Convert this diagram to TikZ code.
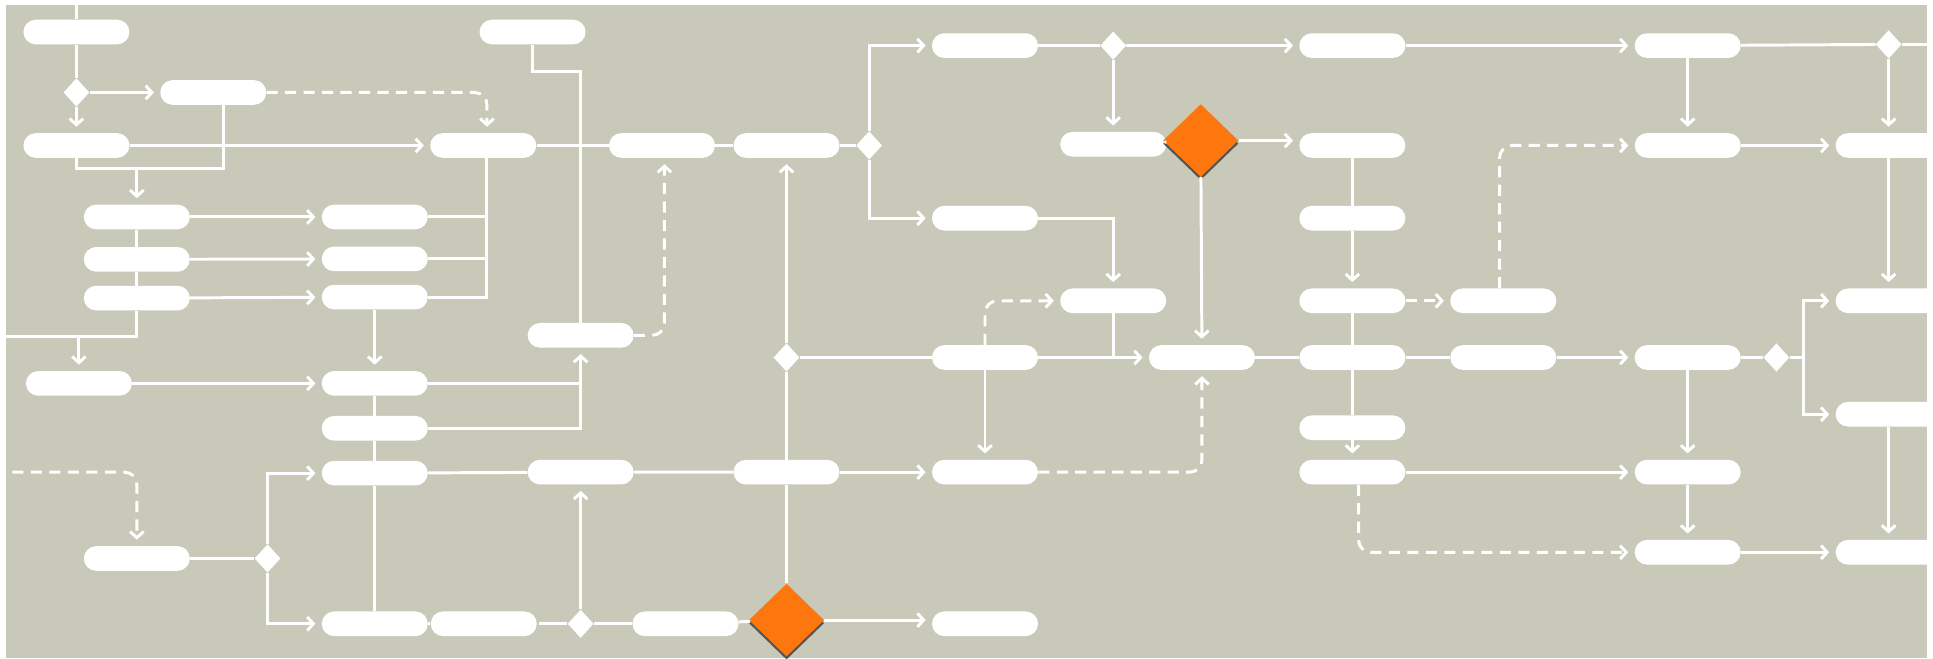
\documentclass[tikz,border=0pt]{standalone}
\usepackage{tikz}
\usetikzlibrary{positioning, arrows.meta, shapes.geometric, shadows}
\definecolor{panel}{RGB}{201,201,186}
\definecolor{hubor}{RGB}{253,119,14}

\begin{document}
\begin{tikzpicture}[
    x=1pt, y=-1pt,
    stage/.style={fill=white, rounded corners=10pt, minimum width=86pt, minimum height=20pt, inner sep=0pt},
    gate/.style={diamond, fill=white, minimum width=21pt, minimum height=23pt, inner sep=0pt},
    hub/.style={diamond, fill=hubor, minimum width=61pt, minimum height=59pt, inner sep=0pt,
        drop shadow={shadow xshift=0pt, shadow yshift=-2.5pt, fill=black!75, opacity=0.85}},
    wire/.style={draw=white, line width=2.4pt},
    flow/.style={wire, -{Straight Barb[length=5pt, width=11pt]}, shorten >=5pt},
    dflow/.style={flow, dash pattern=on 9pt off 6pt, rounded corners=10pt}
]
\useasboundingbox (0,0) rectangle (1568,534);
\fill[white] (0,0) rectangle (1568,534);
\fill[panel] (5,4) rectangle (1563,534);
\clip (5,4) rectangle (1563,534);

% Left entry column
\node[stage] (a1) at (62,26) {};
\node[gate] (dia1) at (62,75) {};
\node[stage] (a2) at (62,118) {};
\node[stage] (c1) at (173,75) {};
\node[stage] (a3) at (64,311) {};

% Parallel branch
\node[stage] (b1) at (111,176) {};
\node[stage, below=14pt of b1] (b2) {};
\node[stage, below=11pt of b2] (b3) {};
\node[stage] (b4) at (111,453) {};
\node[gate] (dia2) at (217,453) {};

\node[stage] (d1) at (304,176) {};
\node[stage] (d2) at (304,210) {};
\node[stage] (d3) at (304,241) {};
\node[stage] (d4) at (304,311) {};
\node[stage, below=16pt of d4] (d5) {};
\node[stage, below=16pt of d5] (d6) {};
\node[stage] (d7) at (304,506) {};
\node[stage, right=2pt of d7] (e2) {};

% Merge column
\node[stage] (f1) at (432,26) {};
\node[stage] (e1) at (392,118) {};
\node[stage] (g1) at (471,272) {};
\node[stage] (g2) at (471,383) {};
\node[gate] (dia3) at (471,506) {};
\node[stage] (h1) at (537,118) {};
\node[stage] (h2) at (556,506) {};
\node[stage] (i1) at (638,118) {};
\node[gate] (dia5) at (638,290) {};
\node[stage] (i2) at (638,383) {};
\node[hub] (hubB) at (638,503) {};
\node[gate] (dia4) at (705,118) {};

% Middle block
\node[stage] (j1) at (799,37) {};
\node[stage] (j2) at (799,177) {};
\node[stage] (j3) at (799,290) {};
\node[stage] (j4) at (799,383) {};
\node[stage] (j5) at (799,506) {};
\node[gate] (dia6) at (903,37) {};
\node[stage] (k1) at (903,117) {};
\node[stage] (k2) at (903,244) {};
\node[hub] (hubA) at (974,114) {};
\node[stage] (l1) at (975,290) {};

% Right block
\node[stage] (m1) at (1097,37) {};
\node[stage] (m2) at (1097,118) {};
\node[stage] (m3) at (1097,177) {};
\node[stage] (m4) at (1097,244) {};
\node[stage] (m5) at (1097,290) {};
\node[stage] (m6) at (1097,347) {};
\node[stage] (m7) at (1097,383) {};
\node[stage, right=36pt of m4] (n1) {};
\node[stage, right=36pt of m5] (n2) {};

\node[stage] (o1) at (1369,37) {};
\node[stage] (o2) at (1369,118) {};
\node[stage] (o3) at (1369,290) {};
\node[stage] (o4) at (1369,383) {};
\node[stage] (o5) at (1369,448) {};
\node[gate] (dia7) at (1441,290) {};
\node[gate] (dia8) at (1532,36) {};
\node[stage] (q1) at (1532,118) {};
\node[stage] (q2) at (1532,244) {};
\node[stage] (q3) at (1532,336) {};
\node[stage] (q4) at (1532,448) {};

% Loose ends
\coordinate (inA) at (62,0);
\coordinate (inL) at (0,273);
\coordinate (inD) at (10,383);
\coordinate (joinA) at (111,137);
\coordinate (eb) at ([xshift=3pt]e1.south);
\coordinate (forkR) at (1463,290);
\coordinate (outR) at (1570,36);

% Left connectors
\draw[wire] (inA) -- (a1);
\draw[wire] (a1) -- (dia1);
\draw[flow] (dia1) -- (a2);
\draw[flow] (dia1) -- (c1);
\draw[dflow] (c1) -| ([xshift=3pt]e1.north);
\draw[wire] (a2.south) |- (joinA) -| ([xshift=8pt]c1.south);
\draw[flow] (joinA) -- (b1);
\draw[flow] (a2) -- (e1);
\draw[wire] (b1) -- (b2) -- (b3);
\draw[wire] (b3) |- (inL);
\draw[flow] (a3.north |- inL) -- (a3);
\draw[flow] (b1) -- (d1);
\draw[flow] (b2) -- (d2);
\draw[flow] (b3) -- (d3);
\draw[wire] (eb) |- (d3);
\draw[wire] (d1) -- (d1 -| eb);
\draw[wire] (d2) -- (d2 -| eb);
\draw[flow] (d3) -- (d4);
\draw[flow] (a3) -- (d4);
\draw[wire] (d4) -- (d5) -- (d6) -- (d7);
\draw[wire] (d4) -- (d4 -| g1);
\draw[flow] (d5) -| (g1);
\draw[dflow] (inD) -| (b4);
\draw[wire] (b4) -- (dia2);
\draw[flow] (dia2) |- (d6);
\draw[flow] (dia2) |- (d7);

% Merge connectors
\draw[wire] (f1.south) -- ++(0,22) -| (g1);
\draw[wire] (e1) -- (h1);
\draw[dflow] (g1) -| ([xshift=2pt]h1.south);
\draw[wire] (h1) -- (i1);
\draw[wire] (i1) -- (dia4);
\draw[wire] (d6) -- (g2) -- (i2);
\draw[wire] (d7) -- (e2);
\draw[wire, shorten <=2pt] (e2) -- (dia3);
\draw[wire] (dia3) -- (h2);
\draw[flow] (dia3) -- (g2);
\draw[wire] (h2) -- (hubB);
\draw[wire] (hubB) -- (i2);
\draw[wire] (i2) -- (dia5);
\draw[flow] (dia5) -- (i1);
\draw[wire] (dia5) -- (j3);

% Middle connectors
\draw[flow] (dia4) |- (j1);
\draw[flow] (dia4) |- (j2);
\draw[wire] (j1) -- (dia6);
\draw[flow] (dia6) -- (m1);
\draw[flow] (dia6) -- (k1);
\draw[wire] (k1) -- (hubA);
\draw[flow] (hubA.east) -- (hubA.east -| m2.west);
\draw[flow] (hubA) -- (l1);
\draw[flow] (j2) -| (k2);
\draw[wire] (k2) -- (k2 |- j3);
\draw[flow] (j3) -- (l1);
\draw[dflow] (j3) |- (k2);
\draw[flow] (j3) -- (j4);
\draw[flow] (i2) -- (j4);
\draw[dflow] (j4) -| (l1);
\draw[flow] (hubB) -- (hubB -| j5.west);

% Right connectors
\draw[wire] (l1) -- (m5);
\draw[wire] (m2) -- (m3);
\draw[flow] (m3) -- (m4);
\draw[wire] (m4) -- (m5) -- (m6);
\draw[flow] (m6) -- (m7);
\draw[dflow] (m4) -- (n1);
\draw[dflow] ([xshift=-3pt]n1.north) |- (o2);
\draw[wire] (m5) -- (n2);
\draw[flow] (n2) -- (o3);
\draw[flow] (m7) -- (o4);
\draw[dflow] ([xshift=5pt]m7.south) |- (o5);
\draw[flow] (m1) -- (o1);
\draw[wire] (o1) -- (dia8);
\draw[wire] (dia8) -- (outR);
\draw[flow] (dia8) -- (q1);
\draw[flow] (o1) -- (o2);
\draw[flow] (o2) -- (q1);
\draw[flow] (q1) -- (q2);
\draw[wire] (o3) -- (dia7);
\draw[wire] (dia7) -- (forkR);
\draw[flow] (forkR) |- (q2);
\draw[flow] (forkR) |- (q3);
\draw[flow] (o3) -- (o4);
\draw[flow] (o4) -- (o5);
\draw[flow] (o5) -- (q4);
\draw[flow] (q3) -- (q4);

\end{tikzpicture}
\end{document}
